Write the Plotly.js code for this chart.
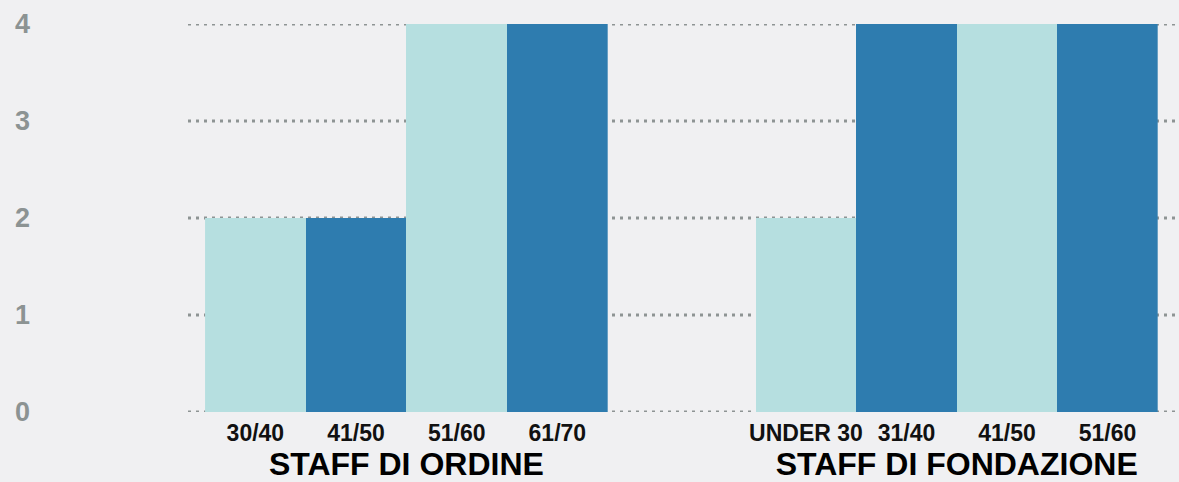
<!DOCTYPE html>
<html>
<head>
<meta charset="utf-8">
<script src="https://cdn.plot.ly/plotly-3.0.1.min.js"></script>
<style>html,body{margin:0;padding:0;background:#f0f0f2;}#chart{width:1179px;height:482px;}</style>
</head>
<body>
<div id="chart"></div>
<script>
// ---- data ----
var ordineCategories = ['30/40', '41/50', '51/60', '61/70'];
var ordineValues = [2, 2, 4, 4];
var fondazioneCategories = ['UNDER 30', '31/40', '41/50', '51/60'];
var fondazioneValues = [2, 4, 4, 4];
var groupTitles = ['STAFF DI ORDINE', 'STAFF DI FONDAZIONE'];
var yTickValues = [0, 1, 2, 3, 4];

// ---- styles ----
var LIGHT = '#b6dfe0', DARK = '#2e7caf';
var barColors = [LIGHT, DARK, LIGHT, DARK];
var BG = '#f0f0f2';
var GRID = '#8e9494';
var FONT = 'Liberation Sans, Arial, sans-serif';

var traces = [
  {type: 'bar', x: ordineCategories, y: ordineValues, xaxis: 'x', yaxis: 'y',
   marker: {color: barColors, line: {width: 0}}, hoverinfo: 'x+y', showlegend: false},
  {type: 'bar', x: fondazioneCategories, y: fondazioneValues, xaxis: 'x2', yaxis: 'y',
   marker: {color: barColors, line: {width: 0}}, hoverinfo: 'x+y', showlegend: false}
];

var shapes = yTickValues.map(function (v) {
  return {type: 'line', xref: 'paper', yref: 'y', x0: 0, x1: 1, y0: v, y1: v,
          layer: 'below', line: {color: GRID, width: 3, dash: '3px,5px'}};
});

var xCommon = {
  type: 'category', showgrid: false, zeroline: false, showline: false, ticks: '',
  ticklabelstandoff: 5,
  tickfont: {family: FONT, size: 23, color: '#111111', weight: 700},
  fixedrange: true
};

var layout = {
  width: 1179, height: 482,
  paper_bgcolor: BG, plot_bgcolor: BG,
  margin: {l: 188, r: 0, t: 24, b: 70, pad: 0},
  bargap: 0,
  shapes: shapes,
  xaxis: Object.assign({}, xCommon, {domain: [0.0172, 0.4235], anchor: 'y',
    title: {text: groupTitles[0], font: {family: FONT, size: 32, color: '#000000', weight: 700}, standoff: 14}}),
  xaxis2: Object.assign({}, xCommon, {domain: [0.5729, 0.9785], anchor: 'y',
    title: {text: groupTitles[1], font: {family: FONT, size: 32, color: '#000000', weight: 700}, standoff: 14}}),
  yaxis: {
    range: [0, 4], tickvals: yTickValues, showgrid: false, zeroline: false, showline: false,
    ticks: '', anchor: 'x', ticklabelstandoff: 174,
    tickfont: {family: FONT, size: 27, color: '#8c9393', weight: 700},
    fixedrange: true
  },
  font: {family: FONT}
};

Plotly.newPlot('chart', traces, layout, {displayModeBar: false, staticPlot: true});
</script>
</body>
</html>
